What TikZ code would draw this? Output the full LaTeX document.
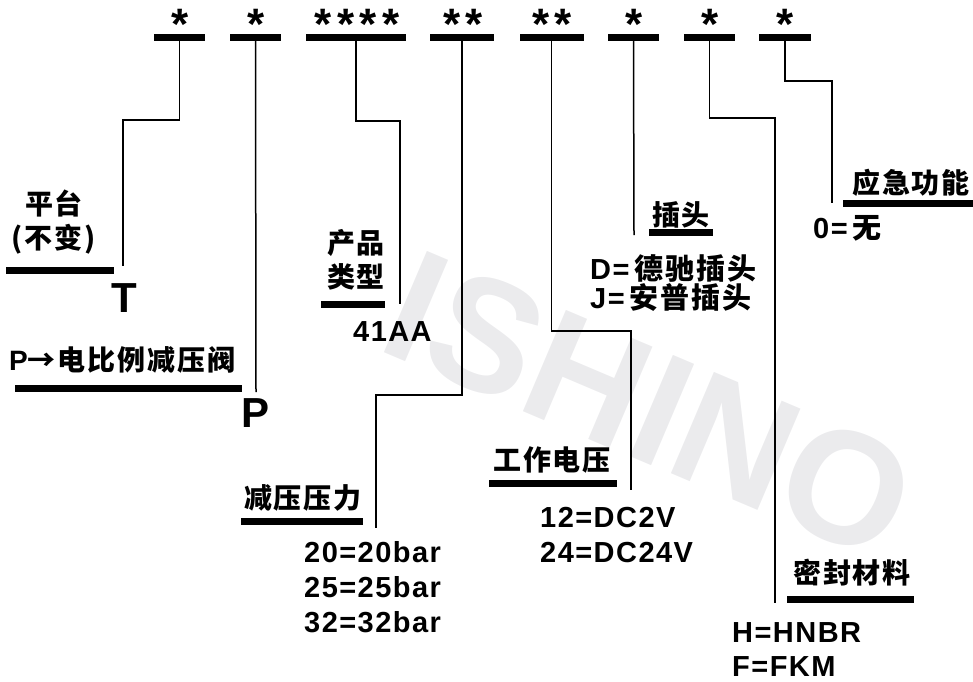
\documentclass[tikz,border=0pt]{standalone}
\usepackage{fontspec}
\setmainfont{Liberation Sans}
\newfontfamily\cjk{Noto Sans CJK SC}[LetterSpace=7]
\newfontfamily\lat{Liberation Sans}[LetterSpace=5]
\definecolor{wmgray}{RGB}{235,235,237}
\tikzset{
  bar/.style={fill=black, inner sep=0pt, outer sep=0pt, minimum height=7pt},
  conn/.style={line width=1.5pt, line cap=butt, line join=miter},
  zh/.style={font=\cjk\bfseries\fontsize{28}{34}\selectfont, inner sep=0pt, align=center},
  en/.style={font=\lat\bfseries\fontsize{29}{35}\selectfont, inner sep=0pt, anchor=west},
  big/.style={font=\bfseries\fontsize{42}{42}\selectfont, inner sep=0pt},
  star/.style={font=\bfseries\fontsize{44}{44}\selectfont, inner sep=0pt, anchor=base},
  wmark/.style={font=\bfseries\fontsize{160}{160}\selectfont, text=wmgray, inner sep=0pt, rotate=-23},
}
\begin{document}
\begin{tikzpicture}[x=1pt,y=-1pt]
\useasboundingbox (0,0) rectangle (973,681);
% watermark
\node[wmark] (wm) at (650,405) {ISHINO};

% top bars
\node[bar, minimum width=51pt]  (b1) at (179.5,37.5) {};
\node[bar, minimum width=51pt]  (b2) at (255.5,37.5) {};
\node[bar, minimum width=100pt] (b3) at (356,37.5) {};
\node[bar, minimum width=64pt]  (b4) at (462,37.5) {};
\node[bar, minimum width=64pt]  (b5) at (551.5,37.5) {};
\node[bar, minimum width=51pt]  (b6) at (633.5,37.5) {};
\node[bar, minimum width=51pt]  (b7) at (709.5,37.5) {};
\node[bar, minimum width=52pt]  (b8) at (785,37.5) {};

% asterisks
\node[star] (s1) at (180,39) {*};
\node[star] (s2) at (256,39) {*};
\node[star] (s3) at (357,39) {*\kern5.5pt*\kern5.5pt*\kern5.5pt*};
\node[star] (s4) at (463,39) {*\kern5.5pt*};
\node[star] (s5) at (552,39) {*\kern5.5pt*};
\node[star] (s6) at (634,39) {*};
\node[star] (s7) at (710,39) {*};
\node[star] (s8) at (785,39) {*};

% 平台
\node[zh] (pt) at (54,222) {平台\\(不变)};
\node[bar, minimum width=108pt] (u1) at (60,270) {};
\node[big] (T) at (124,298) {T};

% P 电比例减压阀
\node[zh, anchor=west] (pv) at (9,360) {{\lat\bfseries P}→电比例减压阀};
\node[bar, minimum width=227pt] (u2) at (128.5,388) {};
\node[big] (P) at (256,413) {P};

% 产品类型
\node[zh] (cp) at (356,260) {产品\\类型};
\node[bar, minimum width=64pt] (u3) at (353,304) {};
\node[en] (aa) at (353,332) {41AA};

% 减压压力
\node[zh] (jy) at (303,498) {减压压力};
\node[bar, minimum width=122pt] (u4) at (302,521.5) {};
\node[en] (p1) at (304,552) {20=20bar};
\node[en] (p2) at (304,587) {25=25bar};
\node[en] (p3) at (304,622) {32=32bar};

% 工作电压
\node[zh] (gz) at (552,460) {工作电压};
\node[bar, minimum width=128pt] (u5) at (553,483) {};
\node[en] (v1) at (540,518) {12=DC2V};
\node[en] (v2) at (540,553) {24=DC24V};

% 插头
\node[zh] (ct) at (681,215) {插头};
\node[bar, minimum width=64pt] (u6) at (681,232.5) {};
\node[en] (d1) at (590,268) {D=\,{\cjk\bfseries 德驰插头}};
\node[en] (d2) at (590,298) {J=\,{\cjk\bfseries 安普插头}};

% 应急功能
\node[zh] (yj) at (911,183) {应急功能};
\node[bar, minimum width=130pt] (u7) at (908,203) {};
\node[en] (e0) at (813,228) {0=\,{\cjk\bfseries 无}};

% 密封材料
\node[zh] (mf) at (852,573) {密封材料};
\node[bar, minimum width=127pt] (u8) at (850.5,599) {};
\node[en] (m1) at (732,633) {H=HNBR};
\node[en] (m2) at (732,667) {F=FKM};

% connector ends
\coordinate (e1) at (123,266);
\coordinate (e2) at (256,392);
\coordinate (e3) at (400,304);
\coordinate (e4) at (376,528);
\coordinate (e5) at (631,490);
\coordinate (e6) at (634,235);
\coordinate (e7) at (775,603);
\coordinate (e8) at (832,203);

\draw[conn] (b1.south) |- (123,120) -- (e1);
\draw[conn] (b2.south) -- (e2);
\draw[conn] (b3.south) |- (400,121) -- (e3);
\draw[conn] (b4.south) |- (376,395) -- (e4);
\draw[conn] (b5.south) |- (631,331) -- (e5);
\draw[conn] (b6.south) -- (e6);
\draw[conn] (b7.south) |- (775,118) -- (e7);
\draw[conn] (b8.south) |- (832,81) -- (e8);
\end{tikzpicture}
\end{document}
